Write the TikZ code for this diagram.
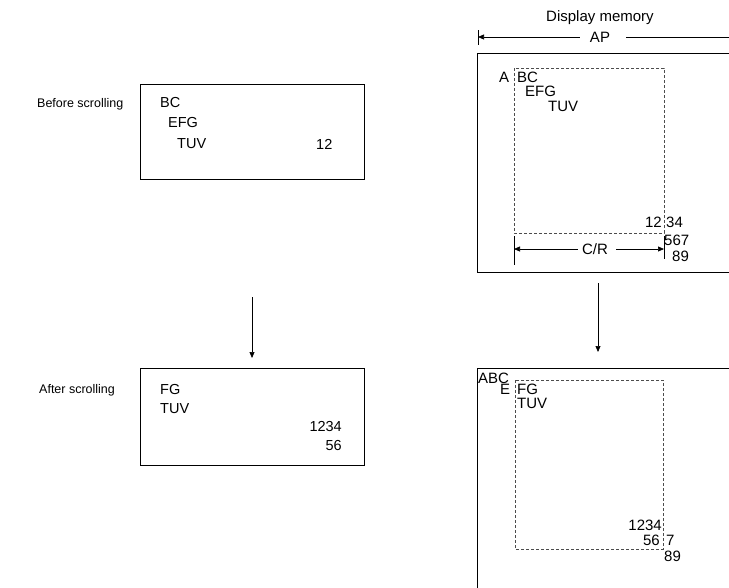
\documentclass[tikz,border=0pt]{standalone}
\usepackage{fontspec}
\setmainfont{Liberation Sans}
\usetikzlibrary{arrows.meta}
\begin{document}
\begin{tikzpicture}[x=1pt,y=-1pt,
  lbl/.style={inner sep=0pt,font=\fontsize{12.5}{14}\selectfont},
  ltxt/.style={inner sep=0pt,font=\fontsize{14.5}{16}\selectfont},
  rtxt/.style={inner sep=0pt,font=\fontsize{15}{17}\selectfont},
  boxline/.style={line width=1pt},
  dashbox/.style={draw=black!70,line width=0.8pt,dash pattern=on 3pt off 2pt},
  arr/.style={line width=0.7pt,-{Triangle[length=6pt,width=5pt]}},
  thin/.style={line width=0.7pt}]
\useasboundingbox (0,0) rectangle (729,587);
% ---------- left column ----------
\node[lbl,anchor=west] (before) at (37,104) {Before scrolling};
\draw[boxline] (140,84) rectangle (364,179);
\node[ltxt,anchor=west] (bBC) at (160,103) {BC};
\node[ltxt,anchor=west] (bEFG) at (168,123) {EFG};
\node[ltxt,anchor=west] (bTUV) at (177,144) {TUV};
\node[ltxt,anchor=west] (b12) at (316,144) {12};
\coordinate (la1) at (252,297);
\coordinate (la2) at (252,358);
\draw[arr] (la1) -- (la2);
\node[lbl,anchor=west] (after) at (39,390) {After scrolling};
\draw[boxline] (140,368) rectangle (364,465);
\node[ltxt,anchor=west] (aFG) at (160,390) {FG};
\node[ltxt,anchor=west] (aTUV) at (160,409) {TUV};
\node[ltxt,anchor=east] (a1234) at (342,427) {1234};
\node[ltxt,anchor=east] (a56) at (342,446) {56};
% ---------- right column top ----------
\node[rtxt] (dm) at (600,18) {Display memory};
\node[rtxt] (ap) at (600,37) {AP};
\coordinate (apL) at (478,37);
\coordinate (apR) at (729,37);
\draw[thin] (478,30) -- (478,45);
\draw[arr] (ap.west) ++(-10,0) -- (apL);
\draw[thin] (ap.east) ++(16,0) -- (apR);
\draw[boxline] (729,53) -- (477,53) -- (477,272) -- (729,272);
\draw[dashbox] (514,68) rectangle (664,233);
\node[rtxt,anchor=west] (tA) at (499,77) {A};
\node[rtxt,anchor=west] (tBC) at (517,77) {BC};
\node[rtxt,anchor=west] (tEFG) at (525,91) {EFG};
\node[rtxt,anchor=west] (tTUV) at (548,106) {TUV};
\node[rtxt,anchor=east] (t12) at (662,222) {12};
\node[rtxt,anchor=west] (t34) at (666,222) {34};
\node[rtxt,anchor=west] (t567) at (664,240) {567};
\node[rtxt,anchor=west] (t89) at (672,256) {89};
\node[rtxt] (cr) at (595,249) {C/R};
\coordinate (crL) at (514,249);
\coordinate (crR) at (664,249);
\draw[thin] (514,236) -- (514,265);
\draw[thin] (664,236) -- (664,259);
\draw[arr] (cr.west) ++(-4,0) -- (crL);
\draw[arr] (cr.east) ++(8,0) -- (crR);
% ---------- right column bottom ----------
\coordinate (ra1) at (598,283);
\coordinate (ra2) at (598,352);
\draw[arr] (ra1) -- (ra2);
\draw[boxline] (729,368) -- (477,368) -- (477,590);
\draw[dashbox] (515,380) rectangle (663,549);
\node[rtxt,anchor=west] (uABC) at (478,378) {ABC};
\node[rtxt,anchor=west] (uE) at (500,389) {E};
\node[rtxt,anchor=west] (uFG) at (517,389) {FG};
\node[rtxt,anchor=west] (uTUV) at (517,403) {TUV};
\node[rtxt,anchor=east] (u1234) at (662,525) {1234};
\node[rtxt,anchor=east] (u56) at (660,540) {56};
\node[rtxt,anchor=west] (u7) at (666,540) {7};
\node[rtxt,anchor=west] (u89) at (664,556) {89};
\end{tikzpicture}
\end{document}
